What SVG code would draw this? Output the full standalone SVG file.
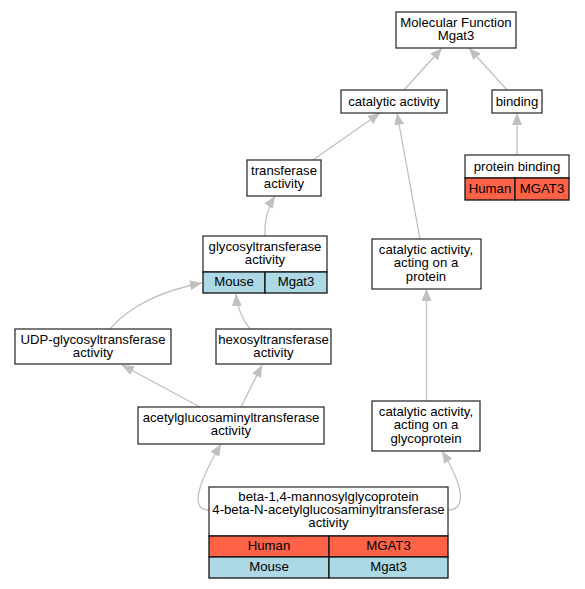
<svg xmlns="http://www.w3.org/2000/svg" width="585" height="589" viewBox="0 0 585 589">
<style>
.box{fill:#ffffff;stroke:#333333;stroke-width:1.3}
.hum{fill:#ff6347;stroke:#111111;stroke-width:1.3}
.mou{fill:#add8e6;stroke:#111111;stroke-width:1.3}
.edge{fill:none;stroke:#c0c0c0;stroke-width:1.3;marker-end:url(#arr)}
text{font-family:"Liberation Sans",Arial,sans-serif;font-size:13.2px;fill:#000000;text-anchor:middle}
</style>
<defs>
<marker id="arr" viewBox="0 0 12 10" refX="12" refY="5" markerWidth="12" markerHeight="10" markerUnits="userSpaceOnUse" orient="auto">
<path d="M0,0 L12,5 L0,10 z" fill="#c0c0c0"/>
</marker>
</defs>
<rect width="585" height="589" fill="#ffffff"/>
<g id="connectors">
<path class="edge" d="M404,90 L442,48"/>
<path class="edge" d="M507,90 L469,48"/>
<path class="edge" d="M517,155 L517,113"/>
<path class="edge" d="M313,160 L380,113"/>
<path class="edge" d="M420,239 L397,113"/>
<path class="edge" d="M426.5,401 L426.5,289"/>
<path class="edge" d="M265,236 C264,220 268,207 275,196"/>
<path class="edge" d="M110,329 C130,305 165,290 202,283"/>
<path class="edge" d="M250,329 C243,320 237,308 236,294"/>
<path class="edge" d="M200,407 L122,365"/>
<path class="edge" d="M241,407 L262,365"/>
<path class="edge" d="M209,510 C192,510 194,490 221,444"/>
<path class="edge" d="M448,510 C465,510 466,490 442,451"/>
</g>
<g id="mf">
<rect class="box" x="396" y="12" width="120" height="36"/>
<text x="456" y="27">Molecular Function</text>
<text x="456" y="40">Mgat3</text>
</g>
<g id="catalytic">
<rect class="box" x="341" y="90" width="106" height="23"/>
<text x="394" y="106">catalytic activity</text>
</g>
<g id="binding">
<rect class="box" x="492" y="90" width="50" height="23"/>
<text x="517" y="106">binding</text>
</g>
<g id="proteinbinding">
<rect class="box" x="465" y="155" width="104" height="23"/>
<rect class="hum" x="465" y="178" width="50" height="22"/>
<rect class="hum" x="515" y="178" width="54" height="22"/>
<text x="517" y="171">protein binding</text>
<text x="490" y="193">Human</text>
<text x="542" y="193">MGAT3</text>
</g>
<g id="transferase">
<rect class="box" x="247" y="160" width="74" height="36"/>
<text x="284" y="175">transferase</text>
<text x="284" y="188">activity</text>
</g>
<g id="glycosyl">
<rect class="box" x="203" y="236" width="124" height="36"/>
<rect class="mou" x="203" y="272" width="62" height="21"/>
<rect class="mou" x="265" y="272" width="62" height="21"/>
<text x="265" y="251">glycosyltransferase</text>
<text x="265" y="264">activity</text>
<text x="234" y="286">Mouse</text>
<text x="296" y="286">Mgat3</text>
</g>
<g id="catprotein">
<rect class="box" x="372" y="239" width="109" height="50"/>
<text x="426" y="254">catalytic activity,</text>
<text x="426" y="267">acting on a</text>
<text x="426" y="281">protein</text>
</g>
<g id="udp">
<rect class="box" x="15" y="329" width="156" height="35"/>
<text x="93" y="344">UDP-glycosyltransferase</text>
<text x="93" y="357">activity</text>
</g>
<g id="hexosyl">
<rect class="box" x="216" y="329" width="115" height="35"/>
<text x="273.5" y="344">hexosyltransferase</text>
<text x="273.5" y="357">activity</text>
</g>
<g id="acetyl">
<rect class="box" x="138" y="407" width="186" height="37"/>
<text x="231" y="422">acetylglucosaminyltransferase</text>
<text x="231" y="435">activity</text>
</g>
<g id="catglyco">
<rect class="box" x="372" y="401" width="108" height="50"/>
<text x="426" y="416">catalytic activity,</text>
<text x="426" y="429">acting on a</text>
<text x="426" y="443">glycoprotein</text>
</g>
<g id="beta">
<rect class="box" x="209" y="487" width="239" height="49"/>
<rect class="hum" x="209" y="536" width="120" height="21"/>
<rect class="hum" x="329" y="536" width="119" height="21"/>
<rect class="mou" x="209" y="557" width="120" height="21"/>
<rect class="mou" x="329" y="557" width="119" height="21"/>
<text x="328.5" y="501">beta-1,4-mannosylglycoprotein</text>
<text x="328.5" y="514">4-beta-N-acetylglucosaminyltransferase</text>
<text x="328.5" y="527">activity</text>
<text x="269" y="550">Human</text>
<text x="388.5" y="550">MGAT3</text>
<text x="269" y="571">Mouse</text>
<text x="388.5" y="571">Mgat3</text>
</g>
</svg>
